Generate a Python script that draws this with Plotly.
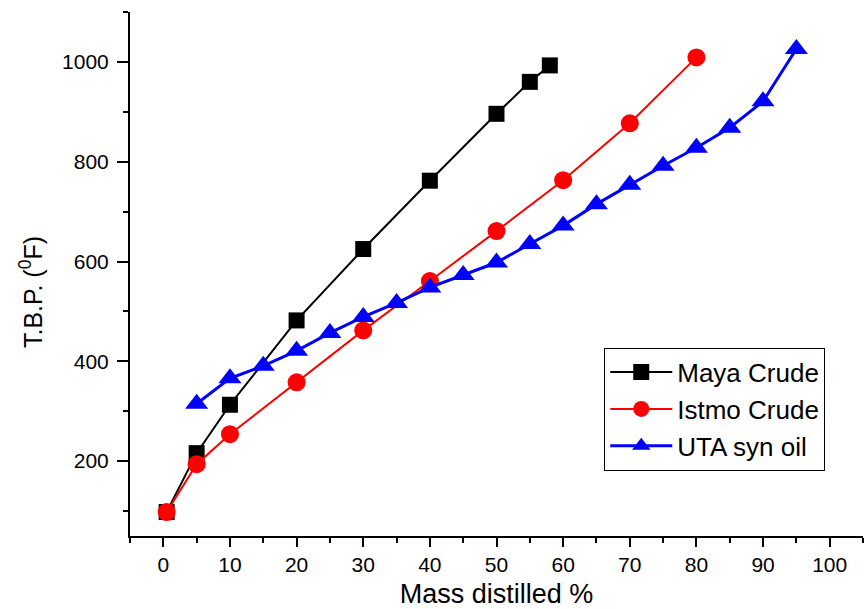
import plotly.graph_objects as go

maya_x = [0.5, 5, 10, 20, 30, 40, 50, 55, 58]
maya_y = [98, 216, 313, 482, 625, 762, 896, 960, 993]

istmo_x = [0.5, 5, 10, 20, 30, 40, 50, 60, 70, 80]
istmo_y = [98, 194, 254, 358, 462, 561, 661, 763, 877, 1009]

uta_x = [5, 10, 15, 20, 25, 30, 35, 40, 45, 50, 55, 60, 65, 70, 75, 80, 85, 90, 95]
uta_y = [315, 366, 391, 421, 457, 489, 517, 548, 573, 598, 635, 672, 715, 754, 792, 828, 868, 921, 1026]

x_ticks = [0, 10, 20, 30, 40, 50, 60, 70, 80, 90, 100]
y_ticks = [200, 400, 600, 800, 1000]

font = "Liberation Sans, Arial, sans-serif"

fig = go.Figure()
fig.add_trace(go.Scatter(x=maya_x, y=maya_y, name="Maya Crude", mode="lines+markers",
                         line=dict(color="black", width=2),
                         marker=dict(symbol="square", size=16, color="black")))
fig.add_trace(go.Scatter(x=istmo_x, y=istmo_y, name="Istmo Crude", mode="lines+markers",
                         line=dict(color="red", width=2),
                         marker=dict(symbol="circle", size=18, color="red")))
fig.add_trace(go.Scatter(x=uta_x, y=uta_y, name="UTA syn oil", mode="lines+markers",
                         line=dict(color="blue", width=3),
                         marker=dict(symbol="triangle-up", size=20, color="blue")))

fig.update_layout(
    width=866, height=609,
    margin=dict(l=130, r=3, t=12, b=73),
    paper_bgcolor="white", plot_bgcolor="white",
    font=dict(family=font, color="black", size=21),
    legend=dict(x=0.647, y=0.242, xanchor="left", yanchor="middle",
                bordercolor="black", borderwidth=1, bgcolor="white",
                font=dict(size=26), tracegroupgap=0, itemwidth=62),
    xaxis=dict(range=[-5, 105], tickvals=x_ticks, showgrid=False, zeroline=False,
               showline=True, linecolor="black", linewidth=2,
               ticks="outside", ticklen=9, tickwidth=2, tickcolor="black",
               minor=dict(dtick=5, tick0=0, ticks="outside", ticklen=5, tickwidth=2, tickcolor="black"),
               tickfont=dict(size=21),
               title=dict(text="Mass distilled %", font=dict(size=27), standoff=12)),
    yaxis=dict(range=[50, 1100], tickvals=y_ticks, showgrid=False, zeroline=False,
               showline=True, linecolor="black", linewidth=2,
               ticks="outside", ticklen=11, tickwidth=2, tickcolor="black",
               minor=dict(dtick=100, tick0=0, ticks="outside", ticklen=5, tickwidth=2, tickcolor="black"),
               tickfont=dict(size=21), ticklabelstandoff=4),
    annotations=[dict(text="T.B.P. (<sup>0</sup>F)", xref="paper", yref="paper",
                      x=-0.135, y=0.4656, xanchor="center", yanchor="middle",
                      textangle=-90, showarrow=False, font=dict(size=25))],
)

fig.write_html("out.html")
